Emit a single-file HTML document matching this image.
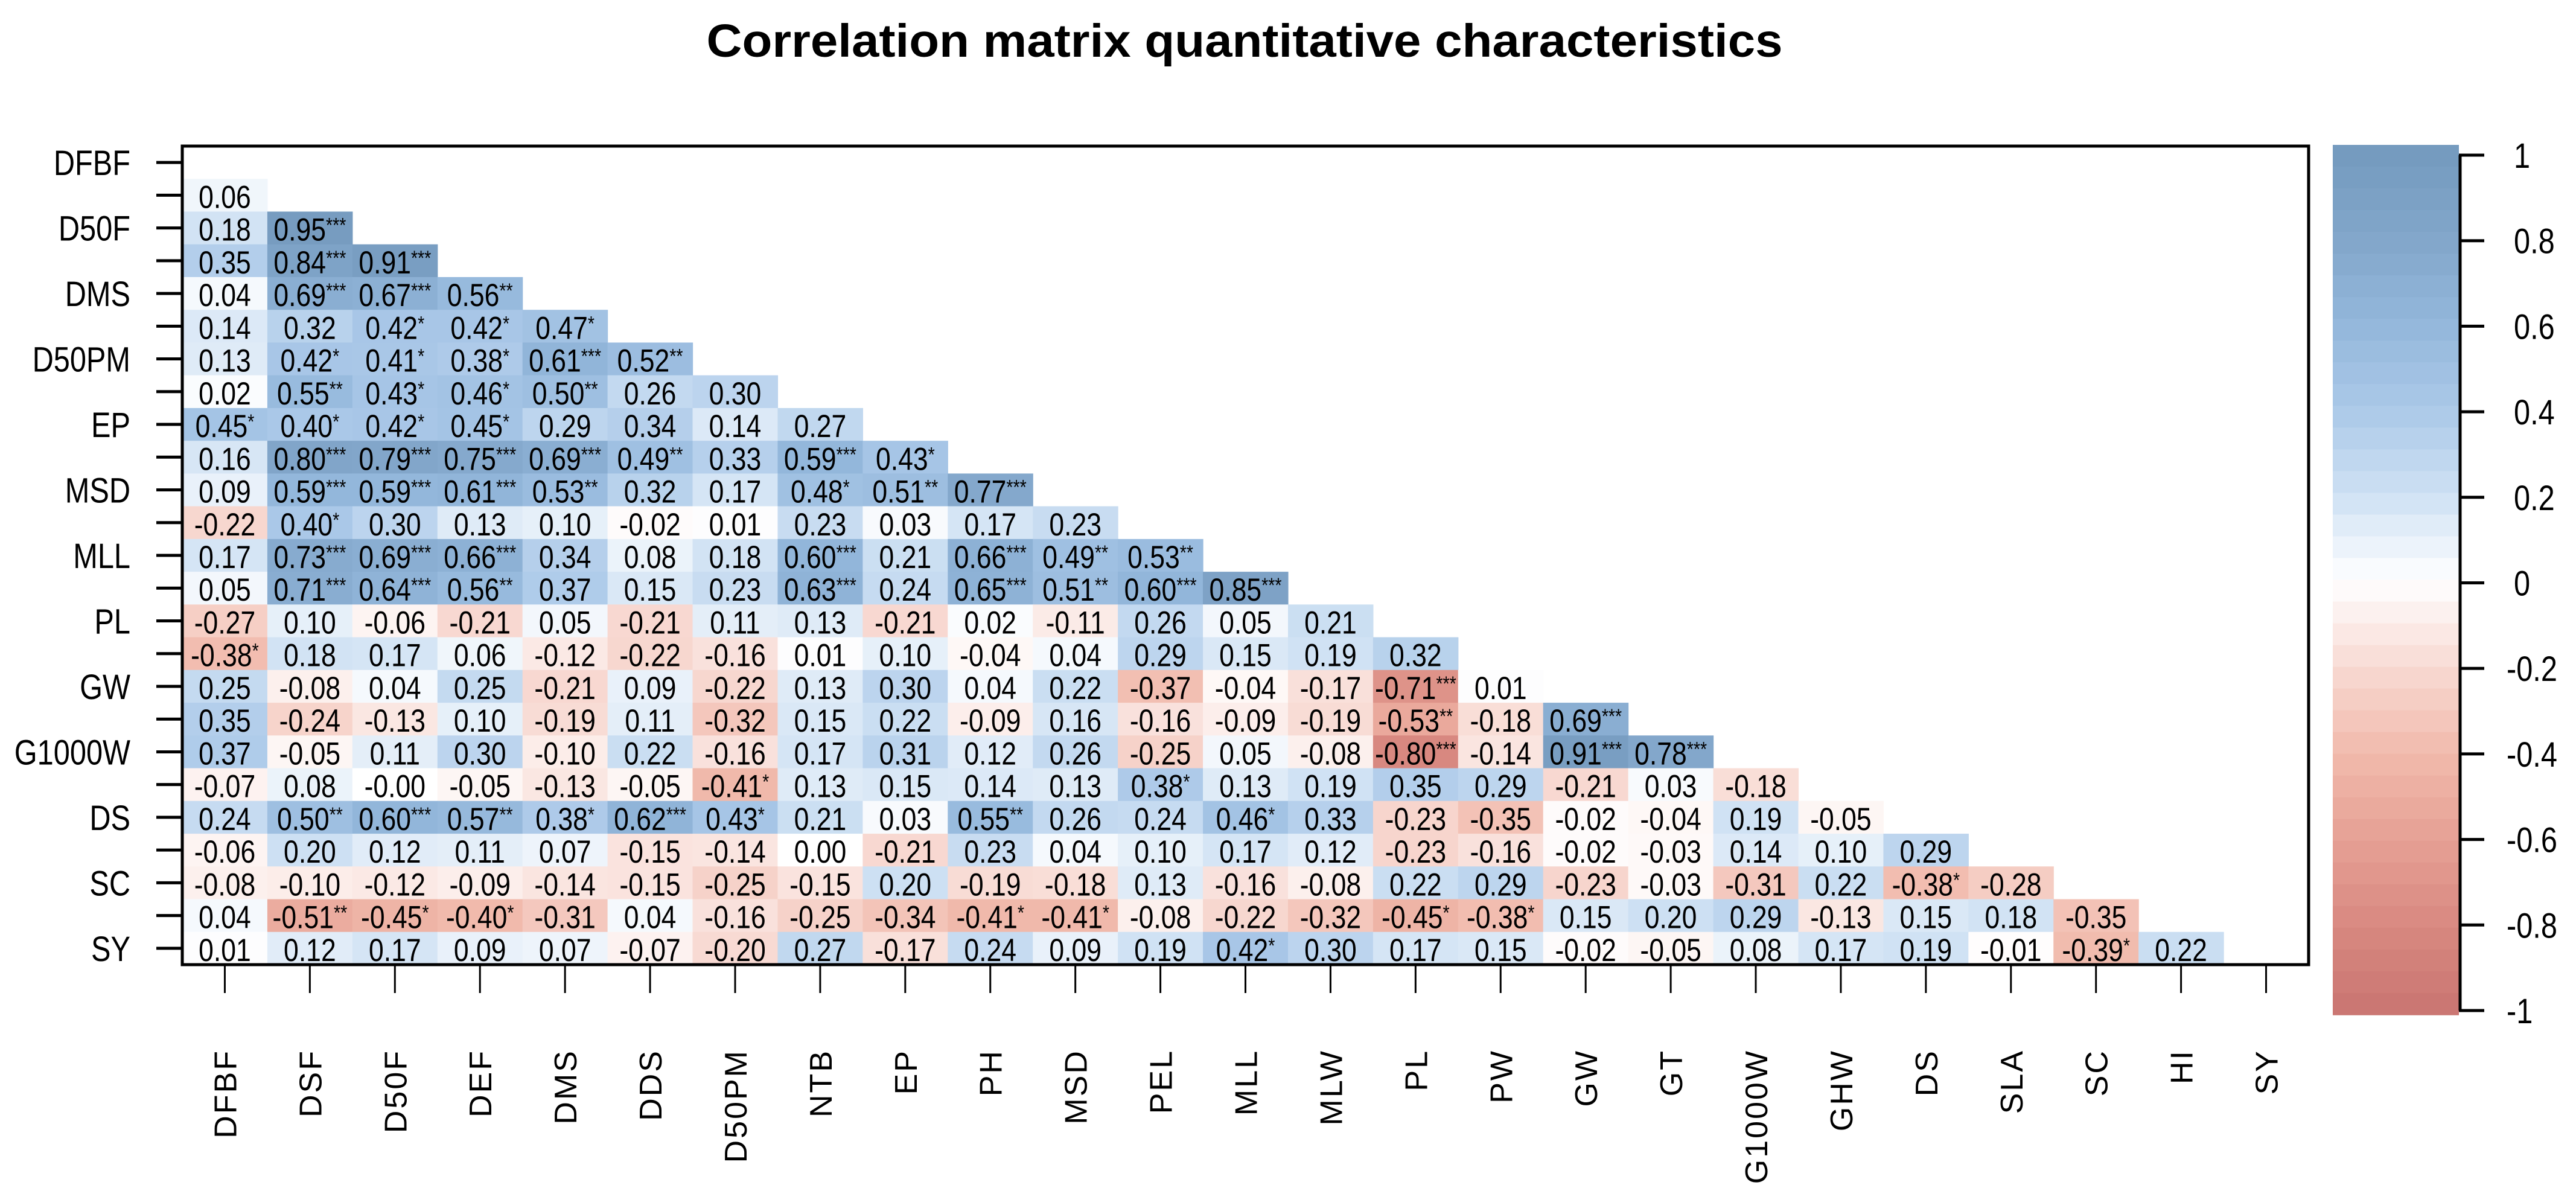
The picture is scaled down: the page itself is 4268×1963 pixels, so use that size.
<!DOCTYPE html>
<html><head><meta charset="utf-8"><style>
html,body{margin:0;padding:0;background:#fff;}
svg{display:block;font-family:"Liberation Sans",Arial,sans-serif;}
</style></head><body>
<svg id="chart" width="4268" height="1963" viewBox="0 0 4268 1963" xmlns="http://www.w3.org/2000/svg">
<rect width="4268" height="1963" fill="#fff"/>
<text x="2062" y="94" text-anchor="middle" font-weight="bold" font-size="77" textLength="1783" lengthAdjust="spacingAndGlyphs">Correlation matrix  quantitative characteristics</text>
<g id="cells"></g>
<g id="labels"></g>
<rect x="302" y="242" width="3523" height="1356" fill="none" stroke="#000" stroke-width="5"/>
<g id="yaxis"></g>
<g id="xaxis"></g>
<g id="cbar"></g>
</svg>
<script>
const vars = ["DFBF","DSF","D50F","DEF","DMS","DDS","D50PM","NTB","EP","PH","MSD","PEL","MLL","MLW","PL","PW","GW","GT","G1000W","GHW","DS","SLA","SC","HI","SY"];
const rows = [
[],
["0.06"],
["0.18","0.95***"],
["0.35","0.84***","0.91***"],
["0.04","0.69***","0.67***","0.56**"],
["0.14","0.32","0.42*","0.42*","0.47*"],
["0.13","0.42*","0.41*","0.38*","0.61***","0.52**"],
["0.02","0.55**","0.43*","0.46*","0.50**","0.26","0.30"],
["0.45*","0.40*","0.42*","0.45*","0.29","0.34","0.14","0.27"],
["0.16","0.80***","0.79***","0.75***","0.69***","0.49**","0.33","0.59***","0.43*"],
["0.09","0.59***","0.59***","0.61***","0.53**","0.32","0.17","0.48*","0.51**","0.77***"],
["-0.22","0.40*","0.30","0.13","0.10","-0.02","0.01","0.23","0.03","0.17","0.23"],
["0.17","0.73***","0.69***","0.66***","0.34","0.08","0.18","0.60***","0.21","0.66***","0.49**","0.53**"],
["0.05","0.71***","0.64***","0.56**","0.37","0.15","0.23","0.63***","0.24","0.65***","0.51**","0.60***","0.85***"],
["-0.27","0.10","-0.06","-0.21","0.05","-0.21","0.11","0.13","-0.21","0.02","-0.11","0.26","0.05","0.21"],
["-0.38*","0.18","0.17","0.06","-0.12","-0.22","-0.16","0.01","0.10","-0.04","0.04","0.29","0.15","0.19","0.32"],
["0.25","-0.08","0.04","0.25","-0.21","0.09","-0.22","0.13","0.30","0.04","0.22","-0.37","-0.04","-0.17","-0.71***","0.01"],
["0.35","-0.24","-0.13","0.10","-0.19","0.11","-0.32","0.15","0.22","-0.09","0.16","-0.16","-0.09","-0.19","-0.53**","-0.18","0.69***"],
["0.37","-0.05","0.11","0.30","-0.10","0.22","-0.16","0.17","0.31","0.12","0.26","-0.25","0.05","-0.08","-0.80***","-0.14","0.91***","0.78***"],
["-0.07","0.08","-0.00","-0.05","-0.13","-0.05","-0.41*","0.13","0.15","0.14","0.13","0.38*","0.13","0.19","0.35","0.29","-0.21","0.03","-0.18"],
["0.24","0.50**","0.60***","0.57**","0.38*","0.62***","0.43*","0.21","0.03","0.55**","0.26","0.24","0.46*","0.33","-0.23","-0.35","-0.02","-0.04","0.19","-0.05"],
["-0.06","0.20","0.12","0.11","0.07","-0.15","-0.14","0.00","-0.21","0.23","0.04","0.10","0.17","0.12","-0.23","-0.16","-0.02","-0.03","0.14","0.10","0.29"],
["-0.08","-0.10","-0.12","-0.09","-0.14","-0.15","-0.25","-0.15","0.20","-0.19","-0.18","0.13","-0.16","-0.08","0.22","0.29","-0.23","-0.03","-0.31","0.22","-0.38*","-0.28"],
["0.04","-0.51**","-0.45*","-0.40*","-0.31","0.04","-0.16","-0.25","-0.34","-0.41*","-0.41*","-0.08","-0.22","-0.32","-0.45*","-0.38*","0.15","0.20","0.29","-0.13","0.15","0.18","-0.35"],
["0.01","0.12","0.17","0.09","0.07","-0.07","-0.20","0.27","-0.17","0.24","0.09","0.19","0.42*","0.30","0.17","0.15","-0.02","-0.05","0.08","0.17","0.19","-0.01","-0.39*","0.22"]
];
const legendTicks = [1,0.8,0.6,0.4,0.2,0,-0.2,-0.4,-0.6,-0.8,-1];
const legendLabels = ["1","0.8","0.6","0.4","0.2","0","-0.2","-0.4","-0.6","-0.8","-1"];

const NS="http://www.w3.org/2000/svg";
const X0=302,Y0=242,W=3523,H=1356,N=vars.length,CW=W/N,RH=H/N;
const stops=[[1,[115,153,189]],[0.8,[129,165,201]],[0.6,[146,182,218]],[0.4,[170,200,232]],[0.2,[205,224,243]],[0,[255,255,255]],[-0.2,[248,218,211]],[-0.4,[241,186,172]],[-0.6,[230,160,148]],[-0.8,[216,136,128]],[-1,[201,116,113]]];
function col(v){for(let i=0;i<stops.length-1;i++){const a=stops[i],b=stops[i+1];if(v<=a[0]&&v>=b[0]){const t=(a[0]-v)/(a[0]-b[0]);const c=a[1].map((x,k)=>Math.round(x+(b[1][k]-x)*t));return `rgb(${c[0]},${c[1]},${c[2]})`;}}return "#fff";}
function xs(c){return X0+c*CW;}
function ys(r){return Y0+r*RH;}
function mk(tag,attrs,parent){const e=document.createElementNS(NS,tag);for(const k in attrs)e.setAttribute(k,attrs[k]);parent.appendChild(e);return e;}
const gC=document.getElementById('cells'),gL=document.getElementById('labels');
rows.forEach((row,r)=>{row.forEach((s,c)=>{
 const v=parseFloat(s);
 const rc=mk('rect',{x:xs(c),y:ys(r),width:CW+0.6,height:RH+0.6,fill:col(v)},gC);
 
 
 const num=s.replace(/\*/g,''),st=s.length-num.length;
 const cx=xs(c)+CW/2,cy=ys(r)+RH/2;
 const t=mk('text',{x:0,y:0,'text-anchor':'middle','font-size':53,transform:`translate(${cx},${cy+21}) scale(0.84,1)`},gL);
 
 
 t.appendChild(document.createTextNode(num));
 if(st){const ts=mk('tspan',{'font-size':34,dy:-14},t);ts.textContent='*'.repeat(st);}
});});
const gy=document.getElementById('yaxis');
vars.forEach((v,i)=>{const y=ys(i)+RH/2;
 const l=mk('line',{x1:259,x2:302,y1:y,y2:y,stroke:'#000','stroke-width':5},gy);
 
 
 if(i%2===0){const t=mk('text',{x:0,y:0,'text-anchor':'end','font-size':58,transform:`translate(216,${y+21}) scale(0.84,1)`},gy);
 
 
 t.textContent=v;}
});
const gx=document.getElementById('xaxis');
vars.forEach((v,i)=>{const x=xs(i)+CW/2;
 const l=mk('line',{x1:x,x2:x,y1:1598,y2:1645,stroke:'#000','stroke-width':3},gx);
 
 
 const t=mk('text',{x:0,y:0,'text-anchor':'end','font-size':52,'letter-spacing':3,transform:`translate(${x+19},1738) rotate(-90)`},gx);
 
 
 t.textContent=v;
});
const gb=document.getElementById('cbar');
const CB0=240,CB1=1681,CT=257,CBot=1674;
const nb=40;
for(let k=0;k<nb;k++){const v=1-(k+0.5)*2/nb;const y=CB0+k*(CB1-CB0)/nb;
 const r=mk('rect',{x:3865,y:y,width:209,height:(CB1-CB0)/nb+0.8,fill:col(v)},gb);
 
 }
mk('line',{x1:4076,x2:4076,y1:CT,y2:CBot,stroke:'#000','stroke-width':5},gb);
legendTicks.forEach((v,i)=>{const y=CT+(1-v)/2*(CBot-CT);
 const l=mk('line',{x1:4074,x2:4116,y1:y,y2:y,stroke:'#000','stroke-width':5},gb);
 
 
 const t=mk('text',{x:0,y:0,'font-size':58,transform:`translate(${v<0?4153:4165},${y+21}) scale(0.84,1)`},gb);
 
 
 t.textContent=legendLabels[i];
});
</script>
</body></html>
